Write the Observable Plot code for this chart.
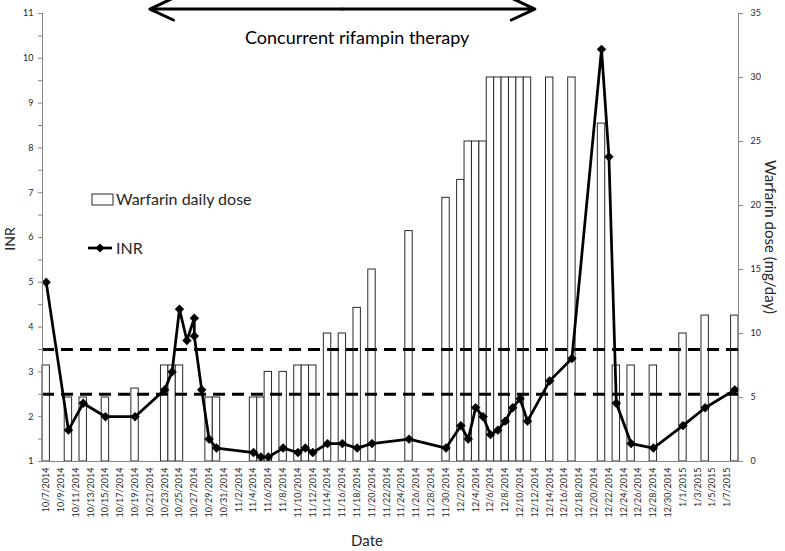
<!DOCTYPE html>
<html><head><meta charset="utf-8">
<script src="https://cdn.jsdelivr.net/npm/d3@7"></script>
<script src="https://cdn.jsdelivr.net/npm/@observablehq/plot@0.6"></script>
<style>
html,body{margin:0;padding:0;background:#fff;}
#chart{width:785px;height:551px;}
</style></head><body><div id="chart"></div>
<script>
// ---- data ----
const doseDates = ["10/7/2014","10/10/2014","10/12/2014","10/15/2014","10/19/2014","10/23/2014","10/24/2014","10/25/2014","10/29/2014","10/30/2014","11/4/2014","11/5/2014","11/6/2014","11/8/2014","11/10/2014","11/11/2014","11/12/2014","11/14/2014","11/16/2014","11/18/2014","11/20/2014","11/25/2014","11/30/2014","12/2/2014","12/3/2014","12/4/2014","12/5/2014","12/6/2014","12/7/2014","12/8/2014","12/9/2014","12/10/2014","12/11/2014","12/14/2014","12/17/2014","12/21/2014","12/23/2014","12/25/2014","12/28/2014","1/1/2015","1/4/2015","1/8/2015"];
const doseValues = [7.5,5,5,5,5.7,7.5,7.5,7.5,5,5,5,5,7,7,7.5,7.5,7.5,10,10,12,15,18,20.6,22,25,25,25,30,30,30,30,30,30,30,30,26.4,7.5,7.5,7.5,10,11.4,11.4];

const inrDates = ["10/7/2014","10/10/2014","10/12/2014","10/15/2014","10/19/2014","10/23/2014","10/24/2014","10/25/2014","10/26/2014","10/27/2014","10/27/2014","10/28/2014","10/29/2014","10/30/2014","11/4/2014","11/5/2014","11/6/2014","11/8/2014","11/10/2014","11/11/2014","11/12/2014","11/14/2014","11/16/2014","11/18/2014","11/20/2014","11/25/2014","11/30/2014","12/2/2014","12/3/2014","12/4/2014","12/5/2014","12/6/2014","12/7/2014","12/8/2014","12/9/2014","12/10/2014","12/11/2014","12/14/2014","12/17/2014","12/21/2014","12/22/2014","12/23/2014","12/25/2014","12/28/2014","1/1/2015","1/4/2015","1/8/2015"];
const inrValues = [5.0,1.7,2.3,2.0,2.0,2.6,3.0,4.4,3.7,4.2,3.8,2.6,1.5,1.3,1.2,1.1,1.1,1.3,1.2,1.3,1.2,1.4,1.4,1.3,1.4,1.5,1.3,1.8,1.5,2.2,2.0,1.6,1.7,1.9,2.2,2.4,1.9,2.8,3.3,10.2,7.8,2.3,1.4,1.3,1.8,2.2,2.6];

const xTickLabels = ["10/7/2014","10/9/2014","10/11/2014","10/13/2014","10/15/2014","10/17/2014","10/19/2014","10/21/2014","10/23/2014","10/25/2014","10/27/2014","10/29/2014","10/31/2014","11/2/2014","11/4/2014","11/6/2014","11/8/2014","11/10/2014","11/12/2014","11/14/2014","11/16/2014","11/18/2014","11/20/2014","11/22/2014","11/24/2014","11/26/2014","11/28/2014","11/30/2014","12/2/2014","12/4/2014","12/6/2014","12/8/2014","12/10/2014","12/12/2014","12/14/2014","12/16/2014","12/18/2014","12/20/2014","12/22/2014","12/24/2014","12/26/2014","12/28/2014","12/30/2014","1/1/2015","1/3/2015","1/5/2015","1/7/2015"];
const inrTicks = [1,1.5,2,2.5,3,3.5,4,4.5,5,5.5,6,6.5,7,7.5,8,8.5,9,9.5,10,10.5,11];
const doseTicks = [0,5,10,15,20,25,30,35];
const inrDomain = [1, 11];
const doseMax = 35;
const targetRange = [2.5, 3.5];

const rifampinStart = "10/21/2014";
const rifampinMid = "11/16/2014";
const rifampinEnd = "12/12/2014";
const rifampinArrowINR = 11.1;
const rifampinLabel = "Concurrent rifampin therapy";
const rifampinLabelDate = "11/18/2014";
const rifampinLabelINR = 10.44;

// ---- derived tables ----
const fmt = d3.utcFormat("%-m/%-d/%Y");
const allDays = d3.utcDay.range(new Date(Date.UTC(2014, 9, 7)), new Date(Date.UTC(2015, 0, 9))).map(fmt);
const doseToY = d => inrDomain[0] + d * (inrDomain[1] - inrDomain[0]) / doseMax;
const yToDose = y => Math.round((y - inrDomain[0]) * doseMax / (inrDomain[1] - inrDomain[0]));
const doses = doseDates.map((date, i) => ({date, dose: doseValues[i]}));
const inr = inrDates.map((date, i) => ({date, inr: inrValues[i]}));
const arrows = [
  {from: rifampinMid, to: rifampinStart, y: rifampinArrowINR},
  {from: rifampinMid, to: rifampinEnd, y: rifampinArrowINR}
];
const note = [{date: rifampinLabelDate, y: rifampinLabelINR, label: rifampinLabel}];

const FONT = "Lato, 'Open Sans', sans-serif";
const axisGray = "#868686";
const textCol = "#262626";

const plot = Plot.plot({
  width: 785, height: 551,
  marginLeft: 42, marginRight: 47, marginTop: 13, marginBottom: 90,
  style: {fontFamily: FONT, background: "white", color: textCol, overflow: "visible"},
  x: {type: "band", domain: allDays, padding: 0},
  y: {domain: inrDomain},
  marks: [
    Plot.barY(doses, {x: "date", y1: () => inrDomain[0], y2: d => doseToY(d.dose), fill: "white", stroke: "#2a2a2a", strokeWidth: 1}),
    Plot.ruleY(targetRange, {stroke: "black", strokeWidth: 3, strokeDasharray: "12,7"}),
    Plot.line(inr, {x: "date", y: "inr", stroke: "black", strokeWidth: 2.75}),
    Plot.dot(inr, {x: "date", y: "inr", symbol: "diamond2", r: 4, fill: "black", stroke: "black", strokeWidth: 0.5}),
    Plot.frame({anchor: "left", stroke: axisGray}),
    Plot.frame({anchor: "right", stroke: axisGray}),
    Plot.frame({anchor: "bottom", stroke: axisGray}),
    Plot.axisY(inrTicks, {anchor: "left", tickSize: 4, tickPadding: 5, stroke: axisGray, fill: textCol, fontSize: 9,
      tickFormat: d => Number.isInteger(d) ? String(d) : "", label: null}),
    Plot.axisY(doseTicks.map(doseToY), {anchor: "right", tickSize: 4, tickPadding: 8, stroke: axisGray, fill: textCol, fontSize: 9,
      tickFormat: d => String(yToDose(d)), label: null}),
    Plot.axisX(xTickLabels, {anchor: "bottom", tickSize: 0, tickPadding: 6, tickRotate: -90, fill: textCol, fontSize: 9, label: null}),
    Plot.arrow(arrows, {x1: "from", x2: "to", y1: "y", y2: "y", stroke: "black", strokeWidth: 3, headLength: 13, headAngle: 50}),
    Plot.text(note, {x: "date", y: "y", text: "label", fontSize: 18, fill: "black"})
  ]
});

document.getElementById("chart").appendChild(plot);

// ---- axis titles and legend ----
const svg = d3.select(plot);
svg.append("text").attr("transform", "translate(10,239) rotate(-90)")
  .attr("text-anchor", "middle").attr("dy", "0.35em")
  .style("font-family", FONT).style("font-size", "14px").attr("fill", textCol).text("INR");
svg.append("text").attr("transform", "translate(770,237) rotate(90)")
  .attr("text-anchor", "middle").attr("dy", "0.35em")
  .style("font-family", FONT).style("font-size", "15px").attr("fill", textCol).text("Warfarin dose (mg/day)");
svg.append("text").attr("x", 367).attr("y", 546).attr("text-anchor", "middle")
  .style("font-family", FONT).style("font-size", "15px").attr("fill", textCol).text("Date");

const lg = svg.append("g").attr("text-anchor", "start");
lg.append("rect").attr("x", 92).attr("y", 194).attr("width", 21).attr("height", 11)
  .attr("fill", "white").attr("stroke", "#2a2a2a");
lg.append("text").attr("x", 116).attr("y", 199.5).attr("dy", "0.35em").attr("text-anchor", "start")
  .style("font-family", FONT).style("font-size", "16px").attr("fill", textCol).text("Warfarin daily dose");
lg.append("line").attr("x1", 88).attr("x2", 112).attr("y1", 248).attr("y2", 248)
  .attr("stroke", "black").attr("stroke-width", 2.75);
lg.append("path").attr("d", d3.symbol(d3.symbolDiamond2, 52)()).attr("transform", "translate(100,248)")
  .attr("fill", "black");
lg.append("text").attr("x", 116).attr("y", 248).attr("dy", "0.35em").attr("text-anchor", "start")
  .style("font-family", FONT).style("font-size", "16px").attr("fill", textCol).text("INR");
</script>
</body></html>
